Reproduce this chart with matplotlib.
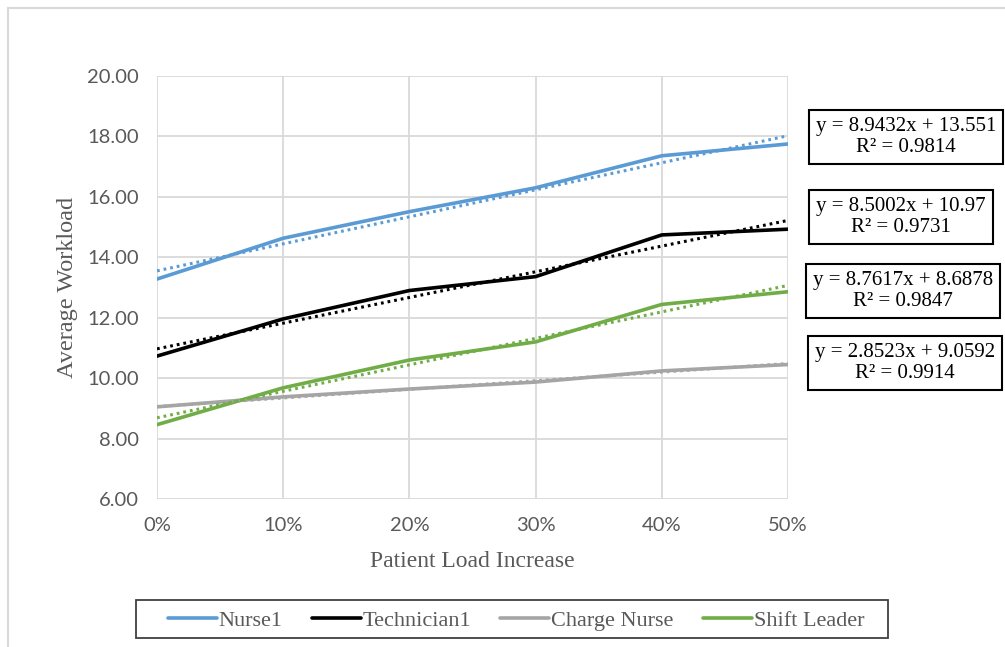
import matplotlib
matplotlib.use("Agg")
import matplotlib.pyplot as plt
import matplotlib.patches as patches
import numpy as np

# patient load increase (fraction) and average workload per role
load_increase = [0.0, 0.1, 0.2, 0.3, 0.4, 0.5]
x_labels = ['0%', '10%', '20%', '30%', '40%', '50%']

nurse1 = [13.28, 14.63, 15.51, 16.30, 17.36, 17.75]
technician1 = [10.73, 11.96, 12.90, 13.36, 14.74, 14.93]
charge_nurse = [9.05, 9.38, 9.64, 9.87, 10.24, 10.45]
shift_leader = [8.46, 9.68, 10.60, 11.20, 12.44, 12.86]

# linear trendlines (slope, intercept, R^2)
slopes = [8.9432, 8.5002, 2.8523, 8.7617]
intercepts = [13.551, 10.97, 9.0592, 8.6878]
r_squared = [0.9814, 0.9731, 0.9914, 0.9847]
eq_texts = ['8.9432', '8.5002', '2.8523', '8.7617']
int_texts = ['13.551', '10.97', '9.0592', '8.6878']

names = ['Nurse1', 'Technician1', 'Charge Nurse', 'Shift Leader']
colors = ['#5B9BD5', '#000000', '#A5A5A5', '#70AD47']
series = [nurse1, technician1, charge_nurse, shift_leader]

W, H = 1005, 647
fig = plt.figure(figsize=(W / 100, H / 100), dpi=100)

# outer chart frame
fig.patches.append(patches.Rectangle((8 / W, -0.1), 1.2, (H - 8) / H + 0.1,
                                     transform=fig.transFigure, fill=False,
                                     edgecolor='#D9D9D9', lw=1.5))

ax = fig.add_axes([157 / W, (H - 499) / H, 631 / W, 423 / H])

xs = np.array(load_increase)
lines = []
for vals, m, b, c, n in zip(series, slopes, intercepts, colors, names):
    ln, = ax.plot(xs, vals, color=c, lw=2.6, label=n, solid_capstyle='round', zorder=3)
    lines.append(ln)
    ax.plot(xs, m * xs + b, color=c, lw=2.2, linestyle=(0, (0.9, 1.3)),
            dash_capstyle='butt', zorder=4)

ax.set_xlim(0, 0.5)
ax.set_ylim(6, 20)
ax.set_xticks(load_increase)
ax.set_xticklabels(x_labels)
ax.set_yticks(np.arange(6, 20.1, 2))
ax.set_yticklabels(['%.2f' % v for v in np.arange(6, 20.1, 2)])
ax.grid(True, color='#D9D9D9', lw=1.3)
ax.set_axisbelow(True)
for s in ax.spines.values():
    s.set_visible(False)
ax.tick_params(length=0, labelsize=14.5, labelcolor='#595959')
ax.tick_params(axis='y', pad=13)
ax.tick_params(axis='x', pad=13)
for lab in ax.get_xticklabels() + ax.get_yticklabels():
    lab.set_family('Lato')

ax.set_xlabel('Patient Load Increase', family='Liberation Serif', fontsize=17,
              color='#595959')
ax.set_ylabel('Average Workload', family='Liberation Serif', fontsize=17.5,
              color='#595959')
ax.xaxis.set_label_coords(0.5, (499 - 551) / 423)
ax.yaxis.set_label_coords((78 - 157) / 631, 0.5)

# trendline equation boxes
box_pos = [(906, 137), (901, 217), (905, 363), (903, 291)]
for (px, py), m, b, r in zip(box_pos, eq_texts, int_texts, r_squared):
    fig.text(px / W, 1 - py / H, 'y = %sx + %s\nR² = %.4f' % (m, b, r),
             family='Liberation Serif', fontsize=15, ha='center', va='center',
             multialignment='center', linespacing=1.15,
             bbox=dict(boxstyle='square,pad=0.35', facecolor='white',
                       edgecolor='black', lw=1.5))

# legend, with its own border box
fig.patches.append(patches.Rectangle((136 / W, 1 - 638 / H), 752 / W, 38 / H,
                                     transform=fig.transFigure, fill=False,
                                     edgecolor='#404040', lw=1.3))
leg = fig.legend(handles=lines, loc='center', ncol=4,
                 bbox_to_anchor=(516 / W, 1 - 621 / H),
                 prop={'family': 'Liberation Serif', 'size': 16},
                 handlelength=2.2, handletextpad=0.1, columnspacing=1.3,
                 borderpad=0, frameon=False)
for t in leg.get_texts():
    t.set_color('#595959')

fig.savefig('out.png', dpi=100)
